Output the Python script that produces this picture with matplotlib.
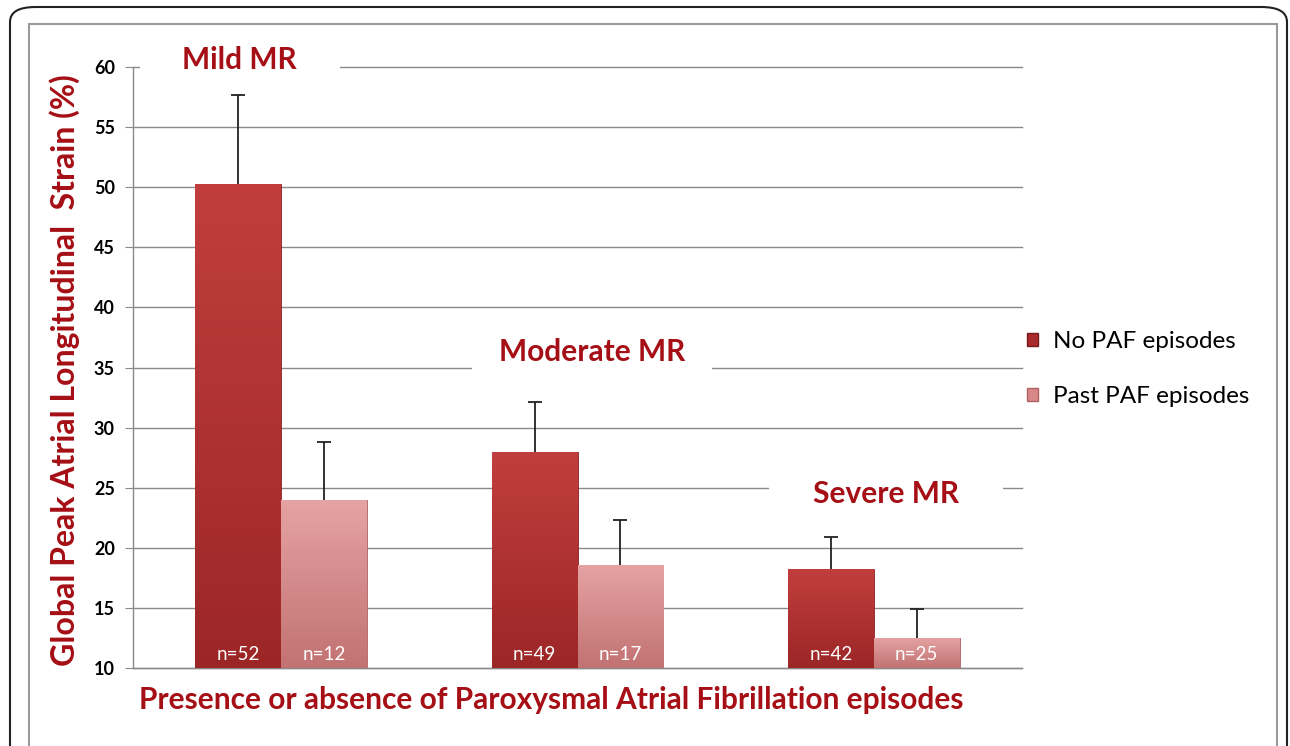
import matplotlib
matplotlib.use("Agg")
import matplotlib.pyplot as plt
import numpy as np
from matplotlib.patches import FancyBboxPatch, Rectangle
from matplotlib.colors import LinearSegmentedColormap
from matplotlib.transforms import IdentityTransform

groups = ["Mild MR", "Moderate MR", "Severe MR"]
series = ["No PAF episodes", "Past PAF episodes"]
no_paf = [50.3, 28.0, 18.2]
past_paf = [24.0, 18.6, 12.5]
no_paf_err = [7.4, 4.1, 2.7]
past_paf_err = [4.8, 3.7, 2.4]
no_paf_n = ["n=52", "n=49", "n=42"]
past_paf_n = ["n=12", "n=17", "n=25"]
yticks = [10, 15, 20, 25, 30, 35, 40, 45, 50, 55, 60]
group_label_y = [60.6, 36.3, 24.5]
xlabel = "Presence or absence of Paroxysmal Atrial Fibrillation episodes"
ylabel = "Global Peak Atrial Longitudinal  Strain (%)"

RED = "#A50F15"
FONT = "Lato"
W, H = 1290, 746
fig = plt.figure(figsize=(W / 100, H / 100), dpi=100)

# outer frames
fig.patches.append(FancyBboxPatch((10 / W, -0.05), 1277 / W, (746 - 7) / H + 0.05,
                                  boxstyle="round,pad=0,rounding_size=0.02",
                                  transform=fig.transFigure, fill=False,
                                  edgecolor="#222222", linewidth=1.5))
fig.patches.append(Rectangle((29 / W, -0.05), 1248 / W, (746 - 24) / H + 0.05,
                             transform=fig.transFigure, fill=False,
                             edgecolor="#999999", linewidth=1.5))

ax = fig.add_axes([133 / W, 1 - 668 / H, 889 / W, 601 / H])
x = np.arange(len(groups))
bw = 0.29
b1 = ax.bar(x - bw / 2, no_paf, bw, color="#B83434", edgecolor="#8E2020",
            linewidth=0.6, zorder=3)
b2 = ax.bar(x + bw / 2, past_paf, bw, color="#D98888", edgecolor="#B06060",
            linewidth=0.6, zorder=3)

# vertical gradients clipped to the bars
cm1 = LinearSegmentedColormap.from_list("c1", ["#9C2626", "#C23E3E"])
cm2 = LinearSegmentedColormap.from_list("c2", ["#C27272", "#E6A3A3"])
grad = np.linspace(0, 1, 256).reshape(-1, 1)
for bars, cm in ((b1, cm1), (b2, cm2)):
    for b in bars:
        x0, w_, h_ = b.get_x(), b.get_width(), b.get_height()
        im = ax.imshow(grad, extent=(x0, x0 + w_, 10, h_), origin="lower",
                       aspect="auto", cmap=cm, zorder=3.5)
        im.set_clip_path(b)

for xs, vals, errs in ((x - bw / 2, no_paf, no_paf_err), (x + bw / 2, past_paf, past_paf_err)):
    eb = ax.errorbar(xs, vals, yerr=[np.zeros(len(vals)), errs], fmt="none",
                     ecolor="#222222", elinewidth=1.3, capsize=5, capthick=1.3, zorder=4)
    eb[1][0].set_visible(False)

for i in range(len(groups)):
    ax.text(x[i] - bw / 2, 11.1, no_paf_n[i], ha="center", va="center",
            color="white", fontsize=13.5, family=FONT, zorder=5)
    ax.text(x[i] + bw / 2, 11.1, past_paf_n[i], ha="center", va="center",
            color="white", fontsize=13.5, family=FONT, zorder=5)

ax.set_xlim(-0.5, 2.5)
ax.set_ylim(10, 60)
ax.set_yticks(yticks)
ax.set_xticks([])
ax.yaxis.grid(True, color="#8a8a8a", linewidth=1.0, zorder=0)
ax.set_axisbelow(True)
for s in ["top", "right"]:
    ax.spines[s].set_visible(False)
for s in ["left", "bottom"]:
    ax.spines[s].set_color("#8a8a8a")
    ax.spines[s].set_linewidth(1.0)
ax.tick_params(axis="y", length=6, color="#8a8a8a", pad=7, labelsize=13)
for lab in ax.get_yticklabels():
    lab.set_fontweight("bold")
    lab.set_family(FONT)
for gl in ax.get_ygridlines():
    gl.set_clip_on(False)

offs = [-0.14, 0.05, 0.042]
box_half = [100, 120, 117]
gtexts = []
for i, g in enumerate(groups):
    t = ax.text(x[i] + offs[i], group_label_y[i], g, ha="center", va="center",
                color=RED, fontsize=21.5, fontweight="bold", family=FONT, zorder=6,
                clip_on=False)
    gtexts.append(t)

fig.canvas.draw()
r = fig.canvas.get_renderer()
for t, hw in zip(gtexts, box_half):
    ext = t.get_window_extent(r)
    cx = (ext.x0 + ext.x1) / 2
    rect = Rectangle((cx - hw, ext.y0 - 8), 2 * hw, ext.height + 16,
                     transform=IdentityTransform(), facecolor="white",
                     edgecolor="none", zorder=5.5, clip_on=False)
    ax.add_artist(rect)

fig.text(551 / W, 1 - 700 / H, xlabel, ha="center", va="center", color=RED,
         fontsize=21.5, fontweight="bold", family=FONT)
fig.text(65 / W, 1 - 370 / H, ylabel, ha="center", va="center", rotation=90,
         color=RED, fontsize=23, fontweight="bold", family=FONT)

handles = [Rectangle((0, 0), 1, 1, facecolor="#A82A2A", edgecolor="#7A1A1A"),
           Rectangle((0, 0), 1, 1, facecolor="#D98888", edgecolor="#B06060")]
leg = fig.legend(handles, series, loc="center left",
                 bbox_to_anchor=(1027 / W, 1 - 369 / H), frameon=False,
                 prop=dict(family=FONT, size=17.5),
                 handlelength=0.45, handleheight=0.45, handletextpad=0.6,
                 labelspacing=1.4, borderpad=0, borderaxespad=0)

fig.savefig("out.png", dpi=100)
